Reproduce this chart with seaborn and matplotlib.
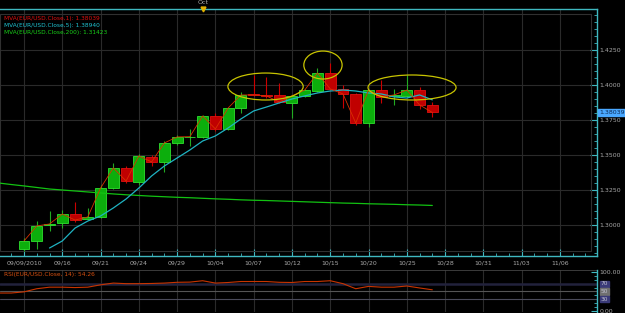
import numpy as np
import pandas as pd
import matplotlib
matplotlib.use("Agg")
import matplotlib.pyplot as plt
import matplotlib.transforms as mtransforms
from matplotlib.patches import Ellipse, Rectangle
from matplotlib.ticker import MultipleLocator, FixedLocator
import seaborn as sns

# ---------------- data ----------------
bar_index = list(range(33))
open_ = [1.2832, 1.2889, 1.3003, 1.3017, 1.3081, 1.3046, 1.3060, 1.3266, 1.3409, 1.3309,
         1.3487, 1.3452, 1.3587, 1.3628, 1.3630, 1.3779, 1.3687, 1.3836, 1.3936, 1.3929,
         1.3929, 1.3872, 1.3922, 1.3957, 1.4085, 1.3972, 1.3936, 1.3729, 1.3964, 1.3922,
         1.3922, 1.3964, 1.3858]
close_ = [1.2889, 1.2996, 1.3010, 1.3081, 1.3038, 1.3060, 1.3266, 1.3409, 1.3316, 1.3494,
          1.3452, 1.3587, 1.3630, 1.3632, 1.3779, 1.3687, 1.3836, 1.3929, 1.3929, 1.3922,
          1.3879, 1.3922, 1.3964, 1.4085, 1.3972, 1.3936, 1.3729, 1.3964, 1.3915, 1.3929,
          1.3964, 1.3858, 1.3804]
high_ = [1.2910, 1.3031, 1.3103, 1.3110, 1.3167, 1.3124, 1.3288, 1.3444, 1.3423, 1.3509,
         1.3501, 1.3601, 1.3644, 1.3687, 1.3786, 1.3801, 1.3838, 1.3950, 1.4071, 1.4057,
         1.4014, 1.3922, 1.3972, 1.4121, 1.4157, 1.4000, 1.3943, 1.3964, 1.4036, 1.3972,
         1.4071, 1.3986, 1.3879]
low_ = [1.2818, 1.2832, 1.2960, 1.2981, 1.3024, 1.3038, 1.3053, 1.3259, 1.3302, 1.3288,
        1.3423, 1.3380, 1.3573, 1.3565, 1.3622, 1.3672, 1.3679, 1.3801, 1.3922, 1.3907,
        1.3872, 1.3765, 1.3915, 1.3950, 1.3964, 1.3836, 1.3715, 1.3701, 1.3872, 1.3858,
        1.3915, 1.3829, 1.3772]

ma5_index = list(range(2, 33))
ma5 = [1.2839, 1.2889, 1.2981, 1.3031, 1.3067, 1.3124, 1.3188, 1.3266, 1.3352, 1.3423,
       1.3480, 1.3537, 1.3601, 1.3637, 1.3694, 1.3758, 1.3815, 1.3843, 1.3872, 1.3900,
       1.3922, 1.3943, 1.3957, 1.3964, 1.3957, 1.3943, 1.3936, 1.3915, 1.3907, 1.3929,
       1.3894]

long_index = list(range(-2, 33))
ma200 = [1.3302, 1.3291, 1.3281, 1.3270, 1.3259, 1.3252, 1.3245, 1.3238, 1.3231, 1.3224,
         1.3218, 1.3213, 1.3208, 1.3204, 1.3200, 1.3197, 1.3193, 1.3189, 1.3186, 1.3182,
         1.3179, 1.3177, 1.3174, 1.3171, 1.3168, 1.3165, 1.3162, 1.3159, 1.3157, 1.3154,
         1.3152, 1.3150, 1.3147, 1.3145, 1.3142]
rsi = [46, 46, 49, 57, 61, 61, 60, 61, 67, 71.5, 70, 70, 70.5, 71.5, 73.5, 74, 77.5, 71.5,
       73, 75.5, 75.5, 75.5, 73.5, 73, 75.5, 75.5, 77.5, 70, 57, 63, 61, 61, 64, 59, 54.26]

date_ticks = list(range(0, 43, 3))
date_labels = ["09/09/2010", "09/16", "09/21", "09/24", "09/29", "10/04", "10/07", "10/12",
               "10/15", "10/20", "10/25", "10/28", "10/31", "11/03", "11/06"]
price_ticks = [1.3000, 1.3250, 1.3500, 1.3750, 1.4000, 1.4250]
price_labels = ["1.3000", "1.3250", "1.3500", "1.3750", "1.4000", "1.4250"]

# highlight ellipses: (center index, center price, width in bars, height in price)
ell_x = [18.93, 23.43, 30.41]
ell_y = [1.3989, 1.4142, 1.3982]
ell_w = [5.9, 3.0, 6.9]
ell_h = [0.0192, 0.0199, 0.0178]

# ---------------- style ----------------
sns.set_theme(style="dark")
plt.rcParams['font.family'] = ['DejaVu Sans']

BG = "#000000"
GRID = "#2a2a2a"
CYAN = "#3fb8c0"
TXT = "#a8a8a8"
GREEN_BODY = "#0cae0c"
GREEN_EDGE = "#2ee02e"
RED_BODY = "#c00000"
RED_EDGE = "#e01010"

fig = plt.figure(figsize=(6.25, 3.13), dpi=100, facecolor=BG)
W, H = 625.0, 313.0
ax = fig.add_axes([0, 1 - 256 / H, 597 / W, (256 - 9) / H])
ax2 = fig.add_axes([0, 1 - 312 / H, 597 / W, (312 - 270) / H])

x_left = -24 / 12.76
x_right = (597 - 24) / 12.76

for a in (ax, ax2):
    a.set_facecolor(BG)
    a.set_xlim(x_left, x_right)

# ---------------- main panel ----------------
ax.set_ylim(1.2782, 1.4541)
ax.set_axisbelow(True)
ax.grid(True, which="major", axis="both", color=GRID, lw=0.8)

df = pd.DataFrame({"idx": bar_index, "open": open_, "close": close_, "high": high_, "low": low_})
up = df["close"] >= df["open"]
body_col = np.where(up, GREEN_BODY, RED_BODY)
edge_col = np.where(up, GREEN_EDGE, RED_EDGE)
wick_col = np.where(up, "#22aa22", "#cc0000")

ax.vlines(df["idx"], df["low"], df["high"], colors=wick_col, lw=0.8, zorder=2)
ax.bar(df["idx"], df["close"] - df["open"], bottom=df["open"], width=0.86,
       color=body_col, edgecolor=edge_col, linewidth=0.6, zorder=3)

sns.lineplot(x=long_index, y=ma200, ax=ax, color="#12c212", lw=0.9, zorder=4, legend=False)
sns.lineplot(x=ma5_index, y=ma5, ax=ax, color="#1fb3c2", lw=0.9, zorder=5, legend=False)
sns.lineplot(x=bar_index, y=close_, ax=ax, color="#d83000", lw=0.6, zorder=6, legend=False)

for cx, cy, w, h in zip(ell_x, ell_y, ell_w, ell_h):
    ax.add_patch(Ellipse((cx, cy), w, h, fill=False, edgecolor="#c8c400", lw=0.9, zorder=7))

ax.set_xlabel("")
ax.set_ylabel("")
ax.xaxis.set_major_locator(FixedLocator(date_ticks))
ax.xaxis.set_minor_locator(MultipleLocator(1))
ax.set_xticks(date_ticks)
ax.set_xticklabels(date_labels)
ax.yaxis.tick_right()
ax.set_yticks(price_ticks)
ax.set_yticklabels(price_labels)
ax.yaxis.set_minor_locator(MultipleLocator(0.005))
ax.tick_params(axis="x", which="major", direction="in", length=5, width=0.8, color=CYAN,
               labelsize=4.5, labelcolor=TXT, pad=3.5, bottom=True, top=False)
ax.tick_params(axis="x", which="minor", direction="in", length=2.5, width=0.6, color=CYAN,
               bottom=True, top=False)
ax.tick_params(axis="y", which="major", direction="in", length=5, width=0.8, color=CYAN,
               labelsize=4.5, labelcolor=TXT, pad=2, right=True, left=False)
ax.tick_params(axis="y", which="minor", direction="in", length=2.5, width=0.6, color=CYAN,
               right=True, left=False)
for s in ("bottom", "top", "right"):
    ax.spines[s].set_visible(True)
    ax.spines[s].set_color(CYAN)
    ax.spines[s].set_linewidth(1.0)
ax.spines["left"].set_visible(False)

# inner plotting frame
ax.add_patch(Rectangle((0, 5 / 247), 591 / 597, (251 - 14) / 247, transform=ax.transAxes,
                       fill=False, edgecolor="#303030", lw=0.8, zorder=1))

# last price tag
ax.annotate("1.38039", xy=(1.0, close_[-1]), xycoords=("axes fraction", "data"),
            xytext=(1.5, 0), textcoords="offset points", va="center", ha="left",
            fontsize=4.5, color="#0b2a55",
            bbox=dict(boxstyle="square,pad=0.15", fc="#4aa8ff", ec="#4aa8ff"))

# month marker
ax.annotate("Oct", xy=(14, 1.0), xycoords=("data", "axes fraction"), xytext=(0, 3),
            textcoords="offset points", ha="center", va="bottom", fontsize=4.5, color=TXT,
            annotation_clip=False)
ax.plot([14], [1.0], marker="v", ms=3.5, color="#e0b000", transform=mtransforms.blended_transform_factory(ax.transData, ax.transAxes), clip_on=False, zorder=8)

# legend texts
ax.text(0.007, 0.962, "MVA(EUR/USD.Close,1): 1.38039", transform=ax.transAxes,
        color="#e01010", fontsize=4.2, va="center", ha="left")
ax.text(0.007, 0.934, "MVA(EUR/USD.Close,5): 1.38940", transform=ax.transAxes,
        color="#1fc3d2", fontsize=4.2, va="center", ha="left")
ax.text(0.007, 0.906, "MVA(EUR/USD.Close,200): 1.31423", transform=ax.transAxes,
        color="#18d018", fontsize=4.2, va="center", ha="left")

# ---------------- RSI panel ----------------
ax2.set_ylim(-2.6, 105)
ax2.set_xticks(date_ticks)
ax2.set_xticklabels([])
ax2.grid(True, axis="x", color=GRID, lw=0.8)
ax2.set_axisbelow(True)
ax2.axhline(70, color="#22223c", lw=1.8, zorder=1)
ax2.axhline(50, color="#555555", lw=0.8, zorder=1)
ax2.axhline(30, color="#4a4a5a", lw=0.8, zorder=1)
ax2.axhline(105, color="#454545", lw=1.2, zorder=1)
sns.lineplot(x=long_index, y=rsi, ax=ax2, color="#c83400", lw=0.8, zorder=3, legend=False)
ax2.set_xlabel("")
ax2.set_ylabel("")
ax2.yaxis.tick_right()
ax2.set_yticks([0, 100])
ax2.set_yticklabels(["0.00", "100.00"])
ax2.yaxis.set_minor_locator(MultipleLocator(10))
ax2.tick_params(axis="y", which="major", direction="in", length=4, width=0.8, color=CYAN,
                labelsize=4.5, labelcolor=TXT, pad=2)
ax2.tick_params(axis="y", which="minor", direction="in", length=2, width=0.6, color=CYAN)
ax2.tick_params(axis="x", length=0)
for s in ("top", "bottom", "left"):
    ax2.spines[s].set_visible(False)
ax2.spines["right"].set_color(CYAN)
ax2.spines["right"].set_linewidth(1.0)
for v, lab, fc in [(70, "70", "#3a3a78"), (50, "50", "#707070"), (30, "30", "#3a3a78")]:
    ax2.annotate(lab, xy=(1.0, v), xycoords=("axes fraction", "data"), xytext=(2.5, 0),
                 textcoords="offset points", va="center", ha="left", fontsize=4.2,
                 color="#c0c0d0", bbox=dict(boxstyle="square,pad=0.1", fc=fc, ec=fc),
                 annotation_clip=False)
ax2.text(0.007, 0.9, "RSI(EUR/USD.Close, 14): 54.26", transform=ax2.transAxes,
         color="#d85010", fontsize=4.2, va="center", ha="left")

fig.savefig("out.png", dpi=100, facecolor=BG)
